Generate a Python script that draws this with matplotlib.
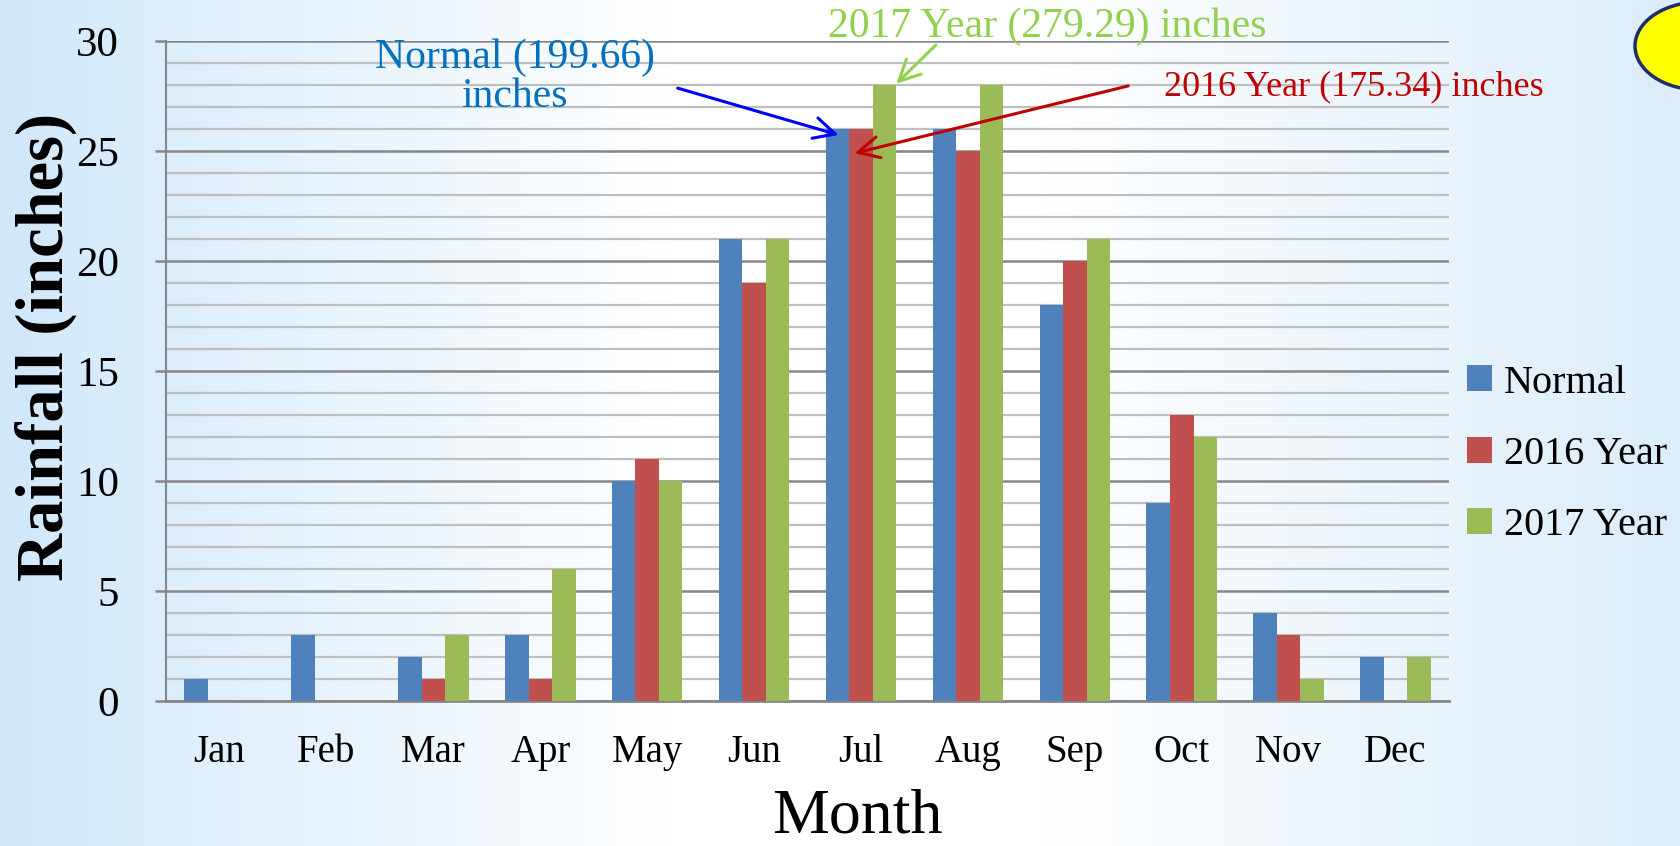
import numpy as np
import matplotlib.pyplot as plt
from matplotlib.patches import Ellipse

months = ['Jan', 'Feb', 'Mar', 'Apr', 'May', 'Jun', 'Jul', 'Aug', 'Sep', 'Oct', 'Nov', 'Dec']
normal = [1, 3, 2, 3, 10, 21, 26, 26, 18, 9, 4, 2]
year2016 = [0, 0, 1, 1, 11, 19, 26, 25, 20, 13, 3, 0]
year2017 = [0, 0, 3, 6, 10, 21, 28, 28, 21, 12, 1, 2]
series_names = ['Normal', '2016 Year', '2017 Year']

plt.rcParams['font.family'] = ['Liberation Serif', 'DejaVu Serif']

fig = plt.figure(figsize=(16.81, 8.46), dpi=100)

# background gradient
bg = fig.add_axes([0, 0, 1, 1], zorder=-10)
xs = np.linspace(0, 1, 400)
left_c = np.array([0.82, 0.91, 0.98])
right_c = np.array([0.86, 0.93, 0.98])
white = np.array([1.0, 1.0, 1.0])
cols = []
for x in xs:
    if x < 0.4:
        t = x / 0.4
        cols.append(left_c * (1 - t) + white * t)
    elif x > 0.62:
        t = (x - 0.62) / 0.38
        cols.append(white * (1 - t) + right_c * t)
    else:
        cols.append(white)
grad = np.array(cols)[None, :, :].repeat(2, axis=0)
bg.imshow(grad, aspect='auto', extent=[0, 1, 0, 1])
bg.set_xlim(0, 1)
bg.set_ylim(0, 1)
bg.axis('off')

ax = fig.add_axes([0.0988, 0.1714, 0.7632, 0.7801])
ax.patch.set_alpha(0)

x = np.arange(len(months))
w = 0.22
ax.bar(x - w, normal, w, color='#4F81BD', label=series_names[0], zorder=3)
ax.bar(x, year2016, w, color='#C0504D', label=series_names[1], zorder=3)
ax.bar(x + w, year2017, w, color='#9BBB59', label=series_names[2], zorder=3)

ax.set_xlim(-0.5, 11.5)
ax.set_ylim(0, 30)
ax.set_yticks(np.arange(0, 31, 5))
ax.set_yticks(np.arange(0, 31, 1), minor=True)
ax.grid(axis='y', which='minor', color='#BFBFBF', linewidth=1.6, zorder=0)
ax.grid(axis='y', which='major', color='#878787', linewidth=1.8, zorder=1)
ax.set_axisbelow(True)

for s in ['top', 'right']:
    ax.spines[s].set_visible(False)
ax.spines['left'].set_color('#878787')
ax.spines['bottom'].set_color('#878787')
ax.spines['bottom'].set_linewidth(2)
ax.spines['left'].set_linewidth(1.5)

ax.set_xticks(x)
ax.set_xticklabels(months, fontsize=28)
ax.tick_params(axis='x', length=0, pad=24)
ax.tick_params(axis='y', which='major', length=8, color='#878787', width=1.8, labelsize=31, pad=26)
ax.tick_params(axis='y', which='minor', length=0)

fig.text(0.510, 0.016, 'Month', fontsize=46, ha='center', va='baseline')
fig.text(0.027, 0.59, 'Rainfall (inches)', fontsize=48, fontweight='bold',
         rotation=90, ha='center', va='center')

# annotation texts
ax.text(2.76, 28.35, 'Normal (199.66)\ninches', fontsize=30, color='#0070C0',
        ha='center', va='center', linespacing=1.0, clip_on=False)
ax.text(7.74, 30.65, '2017 Year (279.29) inches', fontsize=30, color='#92D050',
        ha='center', va='center', clip_on=False)
ax.text(10.61, 27.9, '2016 Year (175.34) inches', fontsize=26, color='#C00000',
        ha='center', va='center', clip_on=False)

# arrows
arrow_kw = dict(arrowstyle='->', lw=2.2, mutation_scale=38, shrinkA=0, shrinkB=0)
ax.annotate('', xy=(5.79, 25.73), xytext=(4.285, 27.86),
            arrowprops=dict(color='#0000FF', **arrow_kw), annotation_clip=False)
ax.annotate('', xy=(6.33, 28.06), xytext=(6.70, 29.82),
            arrowprops=dict(color='#92D050', **arrow_kw), annotation_clip=False)
ax.annotate('', xy=(5.94, 24.9), xytext=(8.5, 27.96),
            arrowprops=dict(color='#C00000', **arrow_kw), annotation_clip=False)

leg = fig.legend(loc='center left', bbox_to_anchor=(0.851, 0.463), frameon=False,
                 fontsize=29, handlelength=0.62, handleheight=0.62,
                 handletextpad=0.3, labelspacing=0.85)

# yellow ellipse at top right corner
el = Ellipse((1700, 800), 130, 88, transform=None, facecolor='#FFFF00',
             edgecolor='#1F2D6B', linewidth=2.5)
fig.patches.append(el)

fig.savefig('out.png', dpi=100)
